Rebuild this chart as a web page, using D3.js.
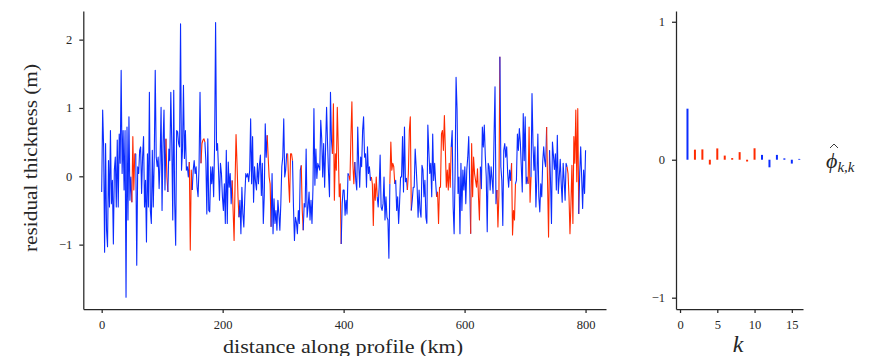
<!DOCTYPE html>
<html><head><meta charset="utf-8">
<script src="https://cdn.jsdelivr.net/npm/d3@7"></script>
<style>
body{margin:0;background:#fff}
svg{display:block}
text{font-family:"Liberation Serif","Times New Roman",serif;fill:#262626}
</style>
</head><body>
<svg id="c" width="874" height="356"></svg>
<script>
// ---------------- DATA ----------------
const profileStartKm = 0;
const profileEndKm = 800;
// residual thickness (m), evenly sampled along the profile
const thickness = [
 // 0 - 200 km (approx.)
 -0.23,0.97,0.43,-1.11,0.48,-0.79,-1.03,0.23,-0.45,0.67,-0.40,-0.06,-0.99,0.09,0.28,-0.45,0.53,-0.45,0.62,0.19,
 1.55,0.04,0.67,-0.20,0.67,-1.77,0.72,-0.64,0.87,-0.35,-0.01,-0.38,0.58,-0.20,0.33,0.33,-1.30,0.14,0.04,0.38,
 0.43,-0.25,0.28,0.58,-0.45,-0.06,-0.96,0.33,-0.45,1.23,-0.50,-0.69,0.38,-0.45,0.28,1.55,0.28,0.14,0.28,-0.18,
 0.23,1.01,-0.50,0.48,0.97,-0.20,0.55,-0.01,-0.23,0.40,0.23,1.23,0.48,-0.64,1.26,-0.40,-1.01,0.67,
 0.65,0.48,0.43,2.23,0.09,0.38,1.33,0.26,0.67,0.09,0.14,-0.01,0.21,-1.08,0.09,-0.20,
 0.09,0.23,0.04,0.14,-0.16,-0.30,0.14,1.23,0.19,0.48,0.53,0.55,0.50,
 0.23,-0.55,0.55,-0.50,-0.52,0.14,-0.11,0.14,-0.30,0.48,2.25,0.38,0.48,0.09,-0.35,0.19,0.04,-0.30,-0.50,-0.11,
 -0.69,0.38,-0.69,0.21,-0.16,0.04,-0.40,-0.06,-0.50,-0.94,-0.11,0.61,0.19,-0.30,-0.60,
 -0.35,-0.84,-0.16,-0.55,-0.74,-0.30,0.04,-0.01,0.04,-0.08,0.09,0.84,-0.11,0.58,-0.38,0.14,-0.08,-0.20,0.19,-0.11,
 // 200 - 400 km (approx.)
 0.16,0.31,-0.28,0.19,-0.69,-0.28,0.77,0.28,0.60,0.28,-0.01,-0.11,-0.74,
 0.04,-0.84,-0.33,-0.69,-0.50,-0.79,-0.35,-0.55,-0.79,-0.40,0.14,0.28,0.84,-0.01,0.09,0.33,
 0.33,-0.08,-0.38,0.33,0.33,0.23,-0.45,-0.94,-0.60,-0.67,-0.84,-0.50,-0.69,0.09,0.16,-0.50,-0.79,
 -0.40,-0.45,0.40,-0.60,-0.45,-0.23,-0.64,-0.35,-0.69,-0.18,0.99,-0.13,0.40,-0.03,0.19,0.14,0.09,0.82,0.55,-0.01,
 0.48,-0.16,0.43,1.01,0.48,0.04,-0.30,1.23,0.53,
 0.33,1.06,-0.35,0.33,0.09,1.01,0.43,-0.30,-0.11,-0.99,-0.40,-0.20,
 -0.20,-0.57,-0.35,-0.55,0.04,0.01,-0.06,0.58,1.09,0.19,-0.11,0.21,
 -0.06,-0.20,0.72,0.19,-0.16,0.28,0.14,0.67,0.87,0.28,0.33,-0.16,0.43,0.04,0.14,-0.06,
 -0.01,-0.11,-0.72,-0.11,-0.35,-0.01,-0.30,
 -0.45,-0.16,0.31,-0.45,-0.50,-0.40,-0.01,-0.64,-0.30,-0.60,-0.64,-1.20,
 -0.11,0.50,0.09,0.19,0.14,-0.11,
 -0.06,-0.50,-0.30,-0.69,-0.38,-0.01,-0.01,0.58,-0.23,0.72,-0.08,-0.03,
 -0.20,0.04,0.67,0.87,-0.50,
 -0.35,-0.16,-0.16,0.40,0.14,-0.16,-0.60,-0.20,-0.50,-0.60,0.16,0.09,-0.30,-0.06,-0.60,-0.69,
 // 400 - 600 km (approx.)
 0.75,0.38,0.04,0.19,-0.30,0.62,-0.06,0.19,-0.08,
 -0.30,-0.23,-0.69,-0.16,-0.16,0.62,0.67,0.38,0.89,0.38,-0.16,0.09,-0.20,0.19,-0.16,0.43,
 0.67,-0.45,-0.84,0.04,1.45,0.99,-0.25,-0.01,-0.84,0.19,-0.50,0.09,-0.20,0.14,-0.40,0.09,0.28,0.58,-0.11,
 -0.84,0.48,-0.30,0.28,0.04,-0.06,-0.16,0.11,-0.30,-0.64,0.14,
 -0.18,0.72,0.43,0.75,0.30,-0.01,-0.81,0.19,0.14,-0.20,0.14,-0.05,-0.25,0.58,1.31,-0.40,
 -0.20,-0.74,-0.28,1.75,
 0.14,-0.06,-0.72,0.38,0.48,0.28,0.43,0.04,-0.16,
 // 600 - 800 km (approx.)
 0.09,-0.06,0.19,-0.86,-0.50,-0.64,-0.11,
 -0.06,0.62,0.38,0.70,0.50,0.14,-0.23,0.92,0.23,0.87,-0.11,-0.01,
 -0.11,0.72,-0.38,-0.01,
 1.21,0.48,0.09,0.43,-0.45,-0.03,0.62,-0.30,-0.52,-0.11,-0.30,0.21,0.43,0.23,0.14,
 0.72,-0.11,-0.89,0.38,
 -0.06,-0.69,0.50,0.31,0.10,0.33,-0.20,0.60,-0.25,-0.01,0.25,-0.11,-0.38,0.19,-0.06,-0.35,0.19,
 0.14,0.04,-0.30,-0.84,-0.40,0.16,-0.69,0.58,0.19,0.97,-0.08,0.99,-0.55,
 0.04,0.43,-0.01,-0.47,0.09,-0.25,0.38
];
// sample-index spans drawn in the second (red) class
const redSpans = [
 [31,35],[66,68],[90,93],[102,106],[134,141],[170,174],[191,196],[205,207],[237,246],
 [254,260],[277,283],[296,301],[314,318],[344,359],[379,389],[406,409],[421,425],
 [438,441],[457,460],[478,490]
];
// partial autocorrelation
const lags = [1,2,3,4,5,6,7,8,9,10,11,12,13,14,15,16];
const pacf = [0.37,0.073,0.075,-0.035,0.082,0.03,0.012,0.055,-0.013,0.083,0.035,-0.055,0.035,0.01,-0.028,0.006];
const pacfClass = ["b","r","r","r","r","r","r","r","r","r","b","b","b","b","b","b"];

const xTicksLeft = [0,200,400,600,800];
const yTicksLeft = [-1,0,1,2];
const xTicksRight = [0,5,10,15];
const yTicksRight = [-1,0,1];

// ---------------- STYLE ----------------
const BLUE = "#0b2cff";
const RED = "#ff2a00";
const AXC = "#262626";

const svg = d3.select("#c");

function styleAxis(g){
  g.select(".domain").attr("stroke",AXC).attr("stroke-width",1.25);
  g.selectAll(".tick line").attr("stroke",AXC).attr("stroke-width",1.25);
  g.selectAll(".tick text").attr("fill",AXC).style("font-size","12.5px")
   .style("font-family",'"Liberation Serif",serif');
}

// ---------------- LEFT PANEL ----------------
const xL = d3.scaleLinear().domain([-30.4,833.8]).range([83.3,606]);
const yL = d3.scaleLinear().domain([-1.942,2.419]).range([309,11]);

const N = thickness.length;
const stepKm = (profileEndKm - profileStartKm)/(N-1);
const pts = thickness.map((v,i)=>({d: profileStartKm + i*stepKm, v, red:false}));
redSpans.forEach(([a,b])=>{ for(let i=a;i<=b;i++) if(pts[i]) pts[i].red = true; });

// group segments into runs of equal class
const runs = [];
for(let i=0;i<N-1;i++){
  const cls = (pts[i].red && pts[i+1].red) ? "r" : "b";
  const last = runs[runs.length-1];
  if(last && last.cls===cls){ last.p.push(pts[i+1]); }
  else runs.push({cls, p:[pts[i],pts[i+1]]});
}
const line = d3.line().x(p=>xL(p.d)).y(p=>yL(p.v));
svg.append("g").selectAll("path").data(runs).join("path")
  .attr("d",r=>line(r.p)).attr("fill","none")
  .attr("stroke",r=>r.cls==="r"?RED:BLUE)
  .attr("stroke-width",1.1).attr("stroke-linejoin","round");

const gxL = svg.append("g").attr("transform","translate(0,309)")
  .call(d3.axisBottom(xL).tickValues(xTicksLeft).tickSize(4).tickSizeOuter(0).tickPadding(7).tickFormat(d3.format("d")));
styleAxis(gxL);
const gyL = svg.append("g").attr("transform","translate(83.3,0)")
  .call(d3.axisLeft(yL).tickValues(yTicksLeft).tickSize(4).tickSizeOuter(0).tickPadding(7).tickFormat(d3.format("d")));
styleAxis(gyL);

svg.append("text").attr("transform","translate(37,158) rotate(-90)")
  .attr("text-anchor","middle").style("font-size","19px")
  .attr("textLength",188).attr("lengthAdjust","spacingAndGlyphs")
  .text("residual thickness (m)");
svg.append("text").attr("x",343).attr("y",353)
  .attr("text-anchor","middle").style("font-size","19px")
  .attr("textLength",240).attr("lengthAdjust","spacingAndGlyphs")
  .text("distance along profile (km)");

// ---------------- RIGHT PANEL ----------------
const xR = d3.scaleLinear().domain([-0.54,16.5]).range([676,803]);
const yR = d3.scaleLinear().domain([-1.082,1.078]).range([309,11]);

svg.append("g").selectAll("line").data(lags).join("line")
  .attr("x1",(k)=>xR(k)).attr("x2",(k)=>xR(k))
  .attr("y1",yR(0)).attr("y2",(k,i)=>yR(pacf[i]))
  .attr("stroke",(k,i)=>pacfClass[i]==="r"?RED:BLUE)
  .attr("stroke-width",2);

const gxR = svg.append("g").attr("transform","translate(0,309)")
  .call(d3.axisBottom(xR).tickValues(xTicksRight).tickSize(4).tickSizeOuter(0).tickPadding(7).tickFormat(d3.format("d")));
styleAxis(gxR);
const gyR = svg.append("g").attr("transform","translate(676,0)")
  .call(d3.axisLeft(yR).tickValues(yTicksRight).tickSize(4).tickSizeOuter(0).tickPadding(7).tickFormat(d3.format("d")));
styleAxis(gyR);

svg.append("text").attr("x",738).attr("y",352).attr("text-anchor","middle")
  .style("font-size","24px").style("font-style","italic").text("k");

const phi = svg.append("text").attr("x",826).attr("y",168)
  .style("font-size","22px").style("font-style","italic");
phi.append("tspan").text("ϕ");
phi.append("tspan").attr("dy",4).style("font-size","15px").text("k,k");
// circumflex accent over ϕ
svg.append("path").attr("d","M830,148 L834,144 L838,148")
  .attr("fill","none").attr("stroke","#262626").attr("stroke-width",0.9);
</script>
</body></html>
